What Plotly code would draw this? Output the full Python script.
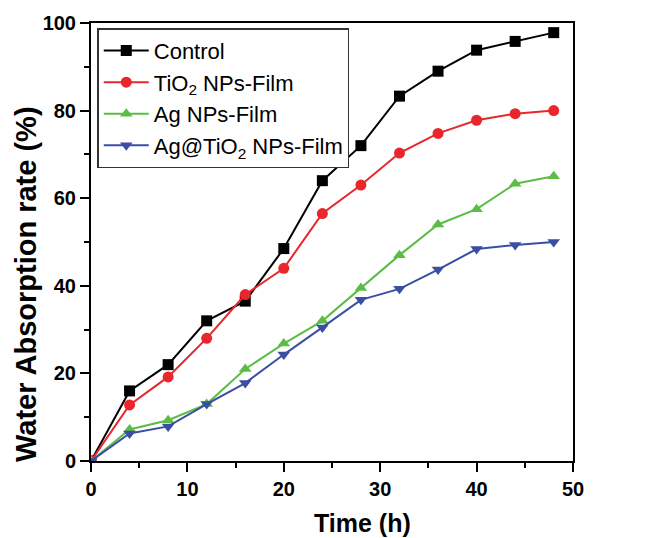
import plotly.graph_objects as go

time_h = [0, 4, 8, 12, 16, 20, 24, 28, 32, 36, 40, 44, 48]
control = [0, 16, 22, 32, 36.5, 48.5, 64, 72, 83.3, 89, 93.8, 95.8, 97.8]
tio2 = [0, 12.8, 19.2, 28, 38, 44, 56.5, 63, 70.3, 74.8, 77.8, 79.3, 80]
ag = [0, 7.2, 9.3, 13, 21, 26.8, 32, 39.5, 47, 54, 57.5, 63.3, 65]
ag_tio2 = [0, 6.3, 7.9, 13, 17.8, 24.3, 30.5, 36.8, 39.3, 43.7, 48.4, 49.3, 50]

names = ["Control", "TiO<sub>2</sub> NPs-Film", "Ag NPs-Film", "Ag@TiO<sub>2</sub> NPs-Film"]
colors = ["#000000", "#e8262b", "#5cbd45", "#3a4ea3"]
symbols = ["square", "circle", "triangle-up", "triangle-down"]
series = [control, tio2, ag, ag_tio2]
x_title = "Time (h)"
y_title = "Water Absorption rate (%)"

FONT = "Liberation Sans, Arial"

fig = go.Figure()
for n, c, s, y in zip(names, colors, symbols, series):
    fig.add_trace(go.Scatter(
        x=time_h, y=y, name=n, mode="lines+markers",
        line=dict(color=c, width=2),
        marker=dict(symbol=s, size=11, color=c),
    ))

axis_common = dict(
    showline=True, linecolor="black", linewidth=2, mirror=True,
    ticks="outside", ticklen=9, tickwidth=2, tickcolor="black",
    showgrid=False, zeroline=False,
    tickfont=dict(family=FONT, size=20, color="black", weight="bold"),
)

fig.update_layout(
    width=647, height=538,
    margin=dict(l=91, r=74, t=23, b=77),
    paper_bgcolor="white", plot_bgcolor="white",
    showlegend=True,
    legend=dict(
        x=0.013, y=0.988, xanchor="left", yanchor="top",
        bordercolor="#333333", borderwidth=1.5,
        font=dict(family=FONT, size=22, color="black"),
        tracegroupgap=0, itemwidth=45,
        bgcolor="white",
    ),
    xaxis=dict(
        range=[0, 50], dtick=10,
        minor=dict(dtick=5, ticks="outside", ticklen=5, tickwidth=2, tickcolor="black"),
        **axis_common,
    ),
    yaxis=dict(
        range=[0, 100], dtick=20,
        minor=dict(dtick=10, ticks="outside", ticklen=5, tickwidth=2, tickcolor="black"),
        **axis_common,
    ),
    annotations=[
        dict(text="<b>" + x_title + "</b>", xref="paper", yref="paper",
             x=(362 - 91) / 482, y=-(523 - 461) / 438, xanchor="center", yanchor="middle",
             showarrow=False, font=dict(family=FONT, size=25, color="black")),
        dict(text="<b>" + y_title + "</b>", xref="paper", yref="paper", textangle=-90,
             x=-(91 - 26) / 482, y=(461 - 284) / 438, xanchor="center", yanchor="middle",
             showarrow=False, font=dict(family=FONT, size=29, color="black")),
    ],
)

fig.write_html("out.html")
